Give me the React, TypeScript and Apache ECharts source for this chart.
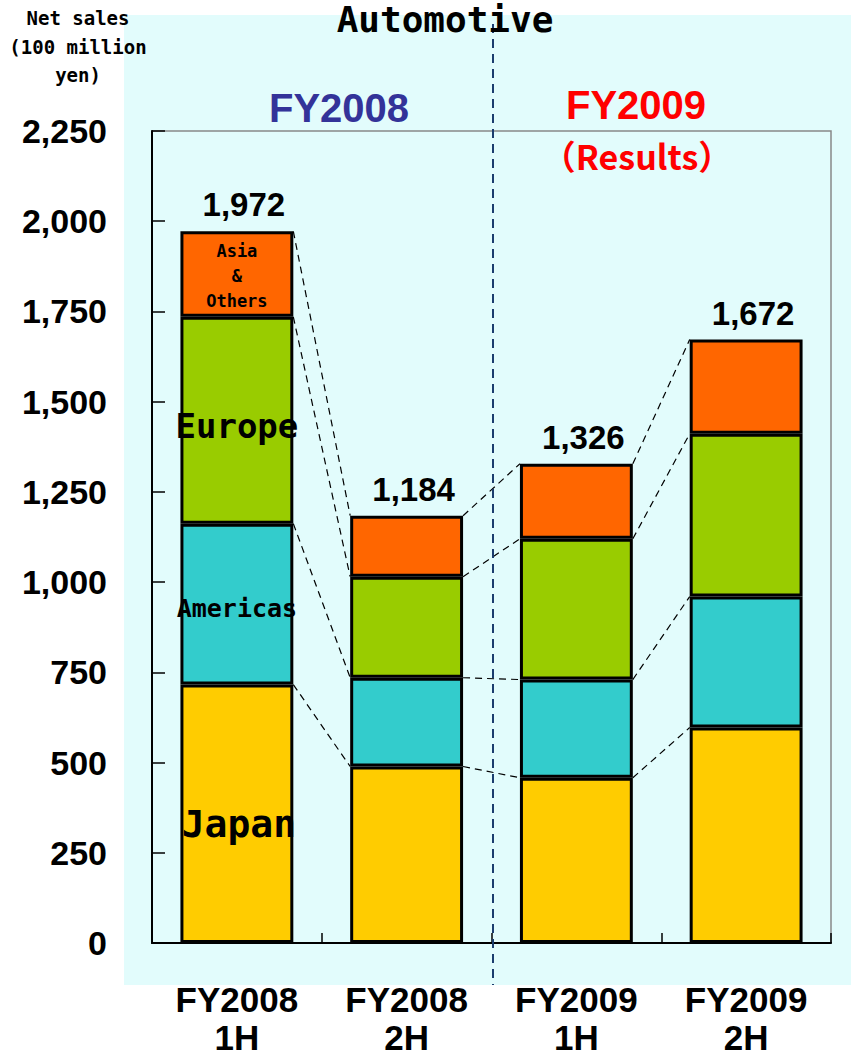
import React, { useEffect, useRef } from "react";
import * as echarts from "echarts";

const categories = ["FY2008\n1H", "FY2008\n2H", "FY2009\n1H", "FY2009\n2H"];
const japan = [716, 489, 458, 597];
const americas = [446, 246, 272, 363];
const europe = [573, 280, 390, 451];
const asia = [237, 169, 208, 261];
const totals = [1972, 1184, 1326, 1672];
const seriesNames = ["Japan", "Americas", "Europe", "Asia & Others"];
const yTicks = { min: 0, max: 2250, interval: 250 };

const BAR_RATIO = 0.665;

export default function App() {
  const ref = useRef<HTMLDivElement>(null);
  useEffect(() => {
    if (!ref.current) return;
    const chart = echarts.init(ref.current, undefined, { renderer: "svg" });
    const stacks = [japan, americas, europe, asia];
    const cum = (i: number, k: number) => {
      let s = 0;
      for (let j = 0; j <= k; j++) s += stacks[j][i];
      return s;
    };
    const connectors: number[][] = [];
    for (let i = 0; i < categories.length - 1; i++) {
      for (let k = 0; k < stacks.length; k++) connectors.push([i, k]);
    }
    const mono = "'DejaVu Sans Mono', monospace";
    const sans = "'Liberation Sans', Arial, sans-serif";
    const barStyle = (c: string) => ({ color: c, borderColor: "#000", borderWidth: 3 });
    const firstLabel = (text: string, size: number, family: string, extra: any = {}) => ({
      show: true,
      position: "inside",
      formatter: text,
      fontFamily: family,
      fontWeight: "bold",
      fontSize: size,
      color: "#000",
      ...extra,
    });
    const mk = (arr: number[], name: string, color: string, lab: any) => ({
      name,
      type: "bar",
      stack: "total",
      barWidth: BAR_RATIO * 100 + "%",
      itemStyle: barStyle(color),
      data: arr.map((v, i) => (i === 0 ? { value: v, label: lab } : { value: v })),
      z: 3,
    });
    const option: any = {
      animation: false,
      backgroundColor: "#fff",
      grid: {
        left: 152,
        right: 20,
        top: 131,
        bottom: 113,
        outerBoundsMode: "none",
        containLabel: false,
        show: true,
        borderColor: "#888",
        borderWidth: 1.5,
        backgroundColor: "transparent",
      },
      xAxis: {
        type: "category",
        data: categories,
        axisLine: { lineStyle: { color: "#000", width: 2 } },
        axisTick: { show: true, inside: true, length: 10, interval: 0, lineStyle: { color: "#000", width: 1.5 } },
        axisLabel: {
          interval: 0,
          margin: 37,
          fontFamily: sans,
          fontWeight: "bold",
          fontSize: 35,
          lineHeight: 38,
          color: "#000",
        },
      },
      yAxis: {
        type: "value",
        min: yTicks.min,
        max: yTicks.max,
        interval: yTicks.interval,
        splitLine: { show: false },
        axisLine: { show: true, lineStyle: { color: "#000", width: 2 } },
        axisTick: { show: true, inside: true, length: 13, lineStyle: { color: "#000", width: 1.5 } },
        axisLabel: {
          margin: 45,
          fontFamily: sans,
          fontWeight: "bold",
          fontSize: 34,
          color: "#000",
          formatter: (v: number) => v.toLocaleString("en-US"),
        },
      },
      graphic: [
        {
          type: "rect",
          z: -100,
          silent: true,
          shape: { x: 124, y: 15, width: 727, height: 970 },
          style: { fill: "#e2fcfc" },
        },
        {
          type: "line",
          z: 100,
          silent: true,
          shape: { x1: 493, y1: 24, x2: 493, y2: 985 },
          style: { stroke: "#1b3d6e", lineWidth: 2, lineDash: [9, 6] },
        },
        {
          type: "text",
          z: 100,
          x: 445,
          y: 1,
          style: {
            text: "Automotive",
            fontFamily: mono,
            fontWeight: "bold",
            fontSize: 36,
            fill: "#000",
            align: "center",
            verticalAlign: "top",
          },
        },
        {
          type: "text",
          z: 100,
          x: 78,
          y: 4,
          style: {
            text: "Net sales\n(100 million\nyen)",
            fontFamily: mono,
            fontWeight: "bold",
            fontSize: 19,
            lineHeight: 28.5,
            fill: "#000",
            align: "center",
            verticalAlign: "top",
          },
        },
        {
          type: "text",
          z: 100,
          x: 339,
          y: 108,
          style: {
            text: "FY2008",
            fontFamily: sans,
            fontWeight: "bold",
            fontSize: 40,
            fill: "#333399",
            align: "center",
            verticalAlign: "middle",
          },
        },
        {
          type: "text",
          z: 100,
          x: 636,
          y: 105,
          style: {
            text: "FY2009",
            fontFamily: sans,
            fontWeight: "bold",
            fontSize: 40,
            fill: "#ff0000",
            align: "center",
            verticalAlign: "middle",
          },
        },
        {
          type: "text",
          z: 100,
          x: 637,
          y: 155,
          style: {
            text: "（Results）",
            fontFamily: "'Noto Sans CJK JP', " + sans,
            fontWeight: "bold",
            fontSize: 34,
            fill: "#ff0000",
            align: "center",
            verticalAlign: "middle",
          },
        },
      ],
      series: [
        mk(japan, seriesNames[0], "#ffcc00", firstLabel("Japan", 38, mono, { offset: [2, 10] })),
        mk(americas, seriesNames[1], "#33cccc", firstLabel("Americas", 25, mono, { offset: [0, 4] })),
        mk(europe, seriesNames[2], "#99cc00", firstLabel("Europe", 34, mono, { offset: [0, 6] })),
        mk(asia, seriesNames[3], "#ff6600", firstLabel("Asia\n&\nOthers", 17, mono, { lineHeight: 25, offset: [0, 2] })),
        {
          type: "bar",
          stack: "total",
          barWidth: BAR_RATIO * 100 + "%",
          itemStyle: { color: "transparent", borderWidth: 0 },
          silent: true,
          data: totals.map(() => 0),
          label: {
            show: true,
            position: "top",
            distance: 10,
            offset: [7, 0],
            fontFamily: sans,
            fontWeight: "bold",
            fontSize: 33,
            color: "#000",
            formatter: (p: any) => totals[p.dataIndex].toLocaleString("en-US"),
          },
          z: 4,
        },
        {
          type: "custom",
          silent: true,
          z: 5,
          data: connectors,
          renderItem: (params: any, api: any) => {
            const i = api.value(0);
            const k = api.value(1);
            const p1 = api.coord([i, cum(i, k)]);
            const p2 = api.coord([i + 1, cum(i + 1, k)]);
            const bw = api.size([1, 0])[0] * BAR_RATIO;
            return {
              type: "line",
              shape: { x1: p1[0] + bw / 2, y1: p1[1], x2: p2[0] - bw / 2, y2: p2[1] },
              style: { stroke: "#000", lineWidth: 1.2, lineDash: [7, 5] },
            };
          },
        },
      ],
    };
    chart.setOption(option);
    return () => chart.dispose();
  }, []);
  return <div ref={ref} style={{ width: 851, height: 1056, position: "absolute", left: 0, top: 0 }} />;
}
